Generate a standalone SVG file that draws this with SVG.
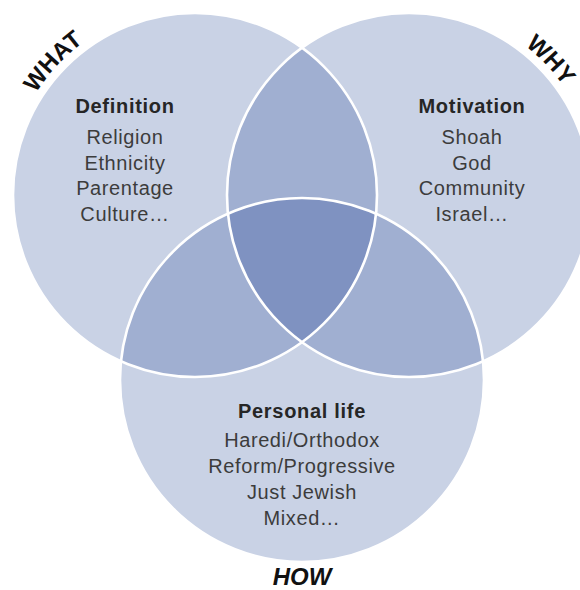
<svg xmlns="http://www.w3.org/2000/svg" width="580" height="590" viewBox="0 0 580 590">
<style>
.base{fill:#C9D2E5}
.two{fill:#A0AFD1}
.three{fill:#7F92C1}
.edge{fill:none;stroke:#ffffff;stroke-width:2.6}
.head{font-family:"Liberation Sans",Arial,sans-serif;font-weight:bold;font-size:20px;letter-spacing:0.7px;fill:#262626;text-anchor:middle}
.item{font-family:"Liberation Sans",Arial,sans-serif;font-size:20px;letter-spacing:0.6px;fill:#3c3c3c;text-anchor:middle}
.tag{font-family:"Liberation Sans",Arial,sans-serif;font-weight:bold;font-size:24px;fill:#111111;text-anchor:middle}
</style>
<defs>
<clipPath id="cL"><circle cx="195" cy="195" r="182"/></clipPath>
<clipPath id="cR"><circle cx="409" cy="195" r="182"/></clipPath>
<path id="arcL" d="M6,195 A189,189 0 0 1 195,6"/>
<path id="arcR" d="M409,6 A189,189 0 0 1 598,195"/>
</defs>
<g id="circles">
<circle class="base" cx="195" cy="195" r="182"/>
<circle class="base" cx="409" cy="195" r="182"/>
<circle class="base" cx="302" cy="380" r="182"/>
</g>
<g id="overlaps">
<g clip-path="url(#cL)"><circle class="two" cx="409" cy="195" r="182"/><circle class="two" cx="302" cy="380" r="182"/></g>
<g clip-path="url(#cR)"><circle class="two" cx="302" cy="380" r="182"/></g>
<g clip-path="url(#cL)"><g clip-path="url(#cR)"><circle class="three" cx="302" cy="380" r="182"/></g></g>
</g>
<g id="outlines">
<circle class="edge" cx="195" cy="195" r="182"/>
<circle class="edge" cx="409" cy="195" r="182"/>
<circle class="edge" cx="302" cy="380" r="182"/>
</g>
<g id="connectors"></g>
<g id="what">
<text class="tag"><textPath href="#arcL" startOffset="48%">WHAT</textPath></text>
<text class="head" x="125" y="113">Definition</text>
<text class="item" x="125" y="144">Religion</text>
<text class="item" x="125" y="170">Ethnicity</text>
<text class="item" x="125" y="195">Parentage</text>
<text class="item" x="125" y="221">Culture…</text>
</g>
<g id="why">
<text class="tag"><textPath href="#arcR" startOffset="51.5%">WHY</textPath></text>
<text class="head" x="472" y="113">Motivation</text>
<text class="item" x="472" y="144">Shoah</text>
<text class="item" x="472" y="170">God</text>
<text class="item" x="472" y="195">Community</text>
<text class="item" x="472" y="221">Israel…</text>
</g>
<g id="how">
<text class="tag" x="302" y="585" font-style="italic">HOW</text>
<text class="head" x="302" y="418">Personal life</text>
<text class="item" x="302" y="447">Haredi/Orthodox</text>
<text class="item" x="302" y="473">Reform/Progressive</text>
<text class="item" x="302" y="499">Just Jewish</text>
<text class="item" x="302" y="525">Mixed…</text>
</g>
</svg>
